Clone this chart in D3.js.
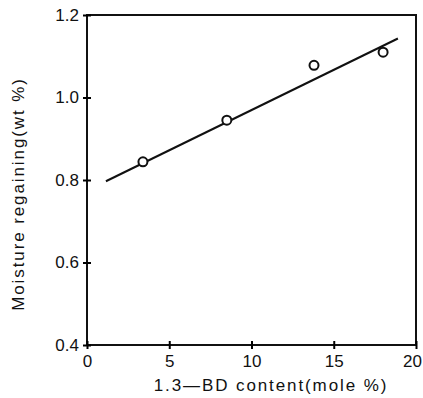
<!DOCTYPE html>
<html>
<head>
<meta charset="utf-8">
<script src="https://cdn.jsdelivr.net/npm/d3@7"></script>
<style>
  body { margin: 0; background: #fff; }
  text { font-family: "Liberation Sans", Arial, sans-serif; fill: #111; }
</style>
</head>
<body>
<svg id="chart" width="423" height="398"></svg>
<script>
// data
var content = [3.4, 8.5, 13.8, 18.0];
var moisture = [0.844, 0.945, 1.078, 1.110];
var fitX = [1.15, 18.9];
var fitY = [0.797, 1.143];
var xTicks = [0, 5, 10, 15, 20];
var yTicks = [0.4, 0.6, 0.8, 1.0, 1.2];

var svg = d3.select("#chart"),
  plotL = 87, plotR = 416, plotT = 15, plotB = 345;

var x = d3.scaleLinear().domain([0, 20]).range([plotL, plotR]),
  y = d3.scaleLinear().domain([0.4, 1.2]).range([plotB, plotT]);

// frame
svg.append("rect")
  .attr("x", plotL).attr("y", plotT)
  .attr("width", plotR - plotL).attr("height", plotB - plotT)
  .attr("fill", "none").attr("stroke", "#111").attr("stroke-width", 2);

var xAxis = svg.append("g")
  .attr("transform", "translate(0," + plotB + ")")
  .call(d3.axisBottom(x).tickValues(xTicks).tickSize(4).tickPadding(6).tickFormat(d3.format("d")));
xAxis.select(".domain").remove();
xAxis.selectAll(".tick line").attr("y1", -4).attr("stroke-width", 2);
xAxis.selectAll("text").attr("font-size", 17).attr("fill", "#111")
  .attr("dx", function(d) { return d === 20 ? -4 : 0; });

var yAxis = svg.append("g")
  .attr("transform", "translate(" + plotL + ",0)")
  .call(d3.axisLeft(y).tickValues(yTicks).tickSize(4).tickPadding(4).tickFormat(d3.format(".1f")));
yAxis.select(".domain").remove();
yAxis.selectAll(".tick line").attr("x1", 4).attr("x2", -4).attr("stroke-width", 2);
yAxis.selectAll("text").attr("font-size", 17).attr("fill", "#111");

// fitted line
var line = d3.line()
  .x(function(d, i) { return x(d); })
  .y(function(d, i) { return y(fitY[i]); });
svg.append("path")
  .datum(fitX)
  .attr("d", line)
  .attr("fill", "none").attr("stroke", "#111").attr("stroke-width", 2);

svg.selectAll(".pt")
  .data(content)
  .enter().append("circle")
  .attr("class", "pt")
  .attr("cx", function(d) { return x(d); })
  .attr("cy", function(d, i) { return y(moisture[i]); })
  .attr("r", 4.5)
  .attr("fill", "#fff").attr("stroke", "#111").attr("stroke-width", 2);

svg.append("text")
  .attr("transform", "translate(24,194) rotate(-90)")
  .attr("text-anchor", "middle")
  .attr("font-size", 17)
  .attr("letter-spacing", 1.9)
  .text("Moisture regaining(wt %)");

svg.append("text")
  .attr("x", 271).attr("y", 391)
  .attr("text-anchor", "middle")
  .attr("font-size", 17)
  .attr("letter-spacing", 1.9)
  .text("1.3\u2014BD content(mole %)");
</script>
</body>
</html>
